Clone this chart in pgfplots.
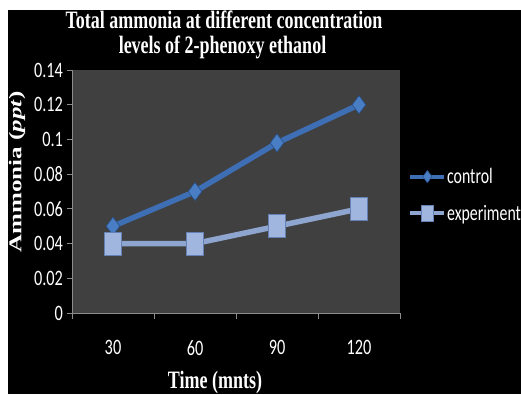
\documentclass[border=0pt]{standalone}
\usepackage{pgfplots}
\pgfplotsset{compat=1.18}
\usepackage{fontspec}
\setmainfont{Carlito}
\newfontfamily\tnr{Liberation Serif}
\usepackage{graphicx}
\definecolor{plotbg}{RGB}{64,64,64}
\definecolor{axgray}{RGB}{140,140,140}
\definecolor{ctrl}{RGB}{62,110,180}
\definecolor{ctrlfill}{RGB}{74,126,196}
\definecolor{ctrldraw}{RGB}{40,80,140}
\definecolor{expl}{RGB}{142,166,207}
\definecolor{expfill}{RGB}{160,182,222}
\definecolor{expdraw}{RGB}{100,128,180}
\newcommand{\sq}[2][0.72]{\scalebox{#1}[1]{#2}}
\begin{document}
\begin{tikzpicture}
\fill[white] (-72pt,-81pt) rectangle (449pt,313pt);
\useasboundingbox (-72pt,-81pt) rectangle (449pt,313pt);
\fill[black] (-64pt,-81pt) rectangle (449pt,303pt);
\begin{axis}[
  scale only axis,
  width=328pt, height=243pt,
  at={(0pt,0pt)}, anchor=south west,
  axis background/.style={fill=plotbg},
  axis x line*=bottom, axis y line*=left,
  axis line style={axgray, line width=0.8pt},
  xmin=-0.5, xmax=3.5, ymin=0, ymax=0.14,
  xtick={0,1,2,3}, xticklabels={30,60,90,120},
  minor xtick={-0.5,0.5,1.5,2.5,3.5},
  major x tick style={draw=none},
  minor x tick style={axgray, line width=0.8pt},
  minor tick length=6pt,
  ytick={0,0.02,0.04,0.06,0.08,0.1,0.12,0.14},
  yticklabels={0,0.02,0.04,0.06,0.08,0.1,0.12,0.14},
  major y tick style={axgray, line width=0.8pt},
  major tick length=5pt,
  tick align=outside,
  ticklabel style={text=white, font=\fontsize{22}{22}\selectfont, xscale=0.74},
  xticklabel style={yshift=-19pt},
  yticklabel style={xshift=-2pt},
  legend style={at={(1.025,0.486)}, anchor=west, draw=none, fill=none,
    text=white, font=\fontsize{22}{22}\selectfont, row sep=18pt,
    inner sep=0pt, nodes={xscale=0.72, inner sep=1pt}},
  legend cell align=left,
  legend image code/.code={\draw[mark repeat=2,mark phase=2,#1, line width=4pt, every mark/.append style={scale=0.68}] plot coordinates {(0pt,0pt) (17pt,0pt) (34pt,0pt)};},
]
\addplot[ctrl, line width=5.5pt, mark=diamond*, mark size=9pt,
  mark options={fill=ctrlfill, draw=ctrldraw, line width=0.6pt}]
  coordinates {(0,0.05) (1,0.07) (2,0.098) (3,0.12)};
\addlegendentry{control}
\addplot[expl, line width=5.5pt, mark=square*, mark size=11.5pt,
  mark options={xscale=0.74, fill=expfill, draw=expdraw, line width=0.6pt}]
  coordinates {(0,0.04) (1,0.04) (2,0.05) (3,0.06)};
\addlegendentry{experiment}
\end{axis}
\node[anchor=base, text=white, inner sep=0pt] at (152pt,284pt)
  {\sq{\tnr\bfseries\fontsize{25}{25}\selectfont Total ammonia at different concentration}};
\node[anchor=base, text=white, inner sep=0pt] at (150.5pt,259pt)
  {\sq{\tnr\bfseries\fontsize{25}{25}\selectfont levels of 2-phenoxy ethanol}};
\node[anchor=base, text=white, inner sep=0pt] at (143pt,-75pt)
  {\sq{\tnr\bfseries\fontsize{25}{25}\selectfont Time (mnts)}};
\node[text=white, inner sep=0pt] at (-55pt,141pt)
  {\rotatebox{90}{\scalebox{1}[0.72]{\tnr\bfseries\fontsize{25}{25}\selectfont Ammonia (\textit{ppt})}}};
\end{tikzpicture}
\end{document}
